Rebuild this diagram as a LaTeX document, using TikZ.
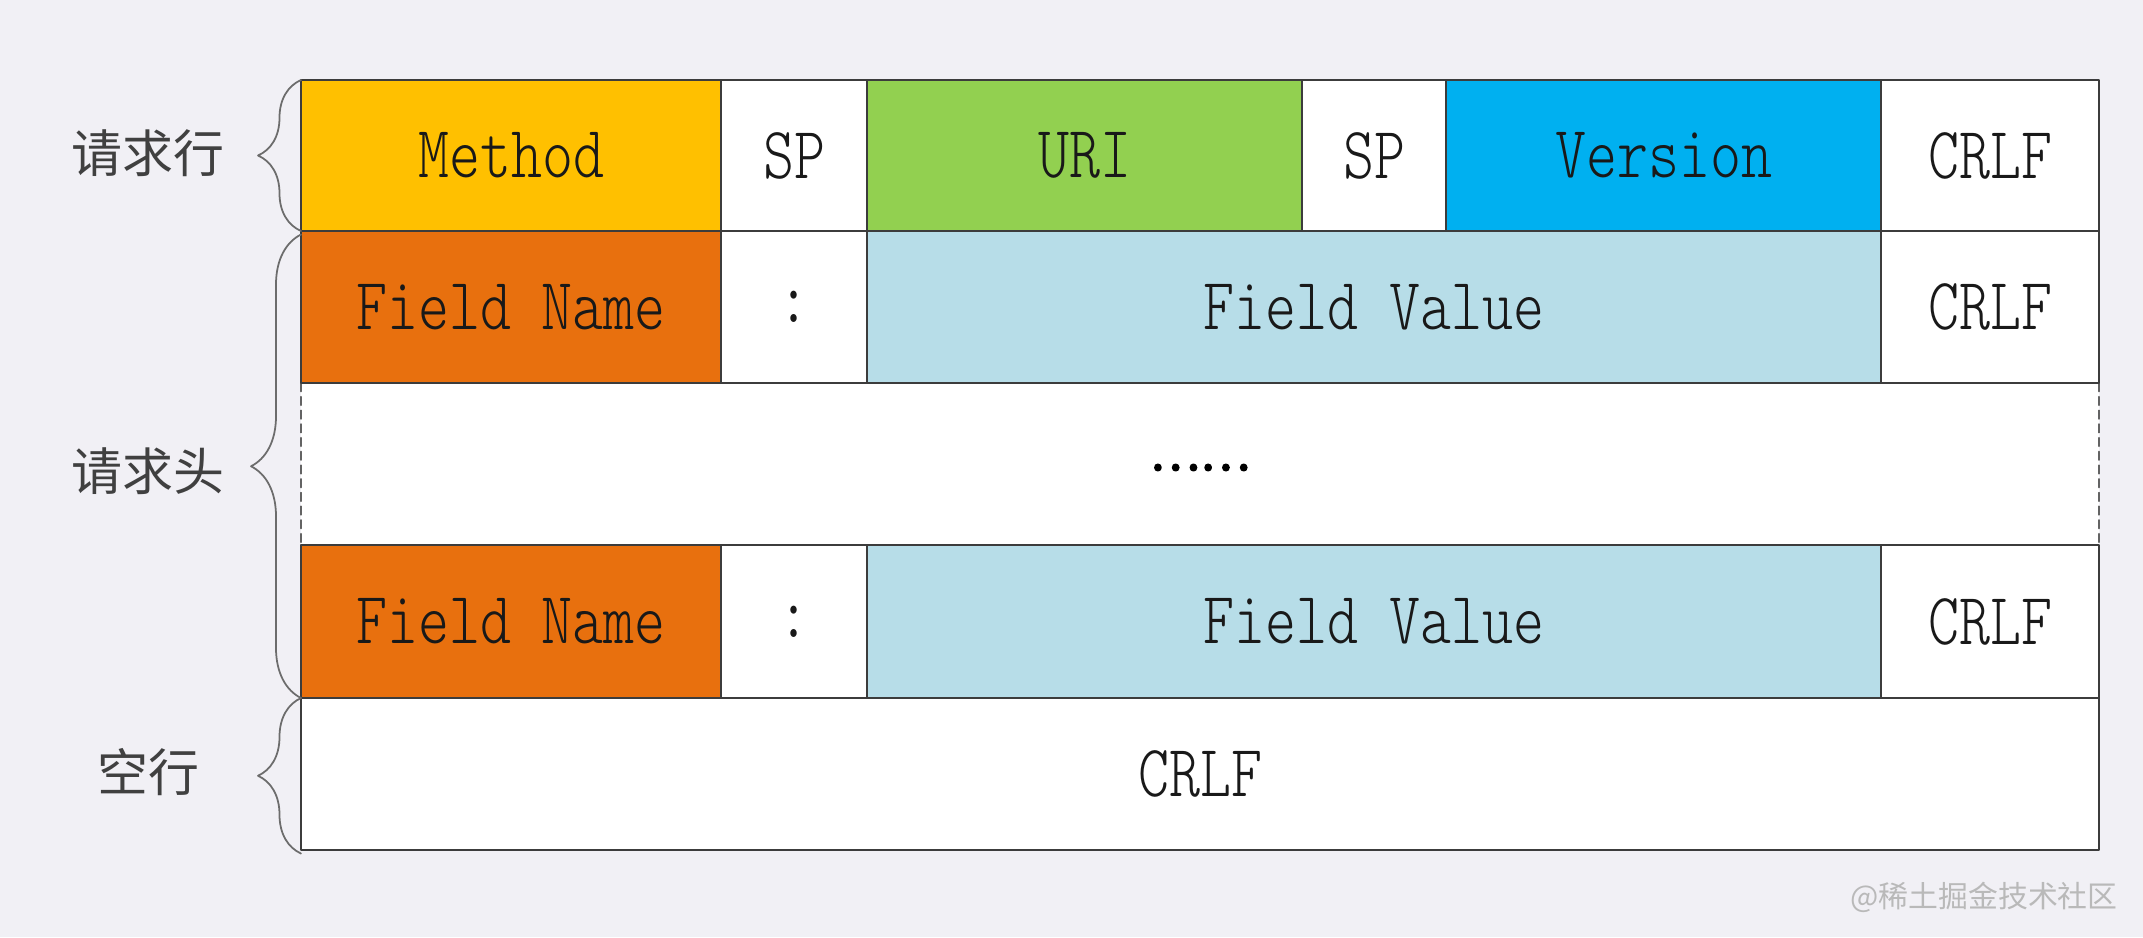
\documentclass[tikz,border=0pt]{standalone}
\usepackage{fontspec}
\usepackage{xcolor}
\usepackage{tikz}
\usetikzlibrary{calc,decorations.pathreplacing,positioning}
\newfontfamily\cjk{Noto Sans CJK SC}
\newfontfamily\cjkdots[FakeBold=3]{Noto Sans CJK SC}
\newfontfamily\cellfont[FakeStretch=0.8]{lmmonolt10-regular.otf}
\definecolor{bgc}{HTML}{F1F0F5}
\definecolor{methodc}{HTML}{FFC000}
\definecolor{uric}{HTML}{92D050}
\definecolor{versionc}{HTML}{00B0F0}
\definecolor{namec}{HTML}{E8700E}
\definecolor{valuec}{HTML}{B7DDE8}
\definecolor{linec}{HTML}{3C3C3C}

\begin{document}
\begin{tikzpicture}[line cap=round, line join=round,
  cell/.style={draw=linec, line width=0.6pt, fill=white, inner sep=0pt, outer sep=0pt,
    minimum height=1.52cm, text=black!90, font=\cellfont\fontsize{21}{25}\selectfont},
  gaprow/.style={fill=white, inner sep=0pt, outer sep=0pt, minimum width=17.98cm,
    minimum height=1.62cm, font=\cjkdots\fontsize{13.5}{16}\selectfont},
  bracer/.style={decorate, decoration={brace, amplitude=#1}, draw=gray!85!black, line width=0.5pt},
  lbl/.style={font=\cjk\fontsize{14.5}{17}\selectfont, text=black!75, inner sep=0pt}]
\fill[bgc] (0,0) rectangle (21.43,9.37);
\useasboundingbox (0,0) rectangle (21.43,9.37);

\node[gaprow] (gap) at (12.00,4.73) {\raisebox{-0.13cm}{……}};
\draw[linec!80, line width=0.5pt, dash pattern=on 2.4pt off 1.5pt] (gap.north west) -- (gap.south west);
\draw[linec!80, line width=0.5pt, dash pattern=on 2.4pt off 1.5pt] (gap.north east) -- (gap.south east);

\node[cell, fill=methodc, minimum width=4.20cm, minimum height=1.51cm] (method) at (5.11,7.815) {Method};
\node[cell, minimum width=1.46cm, minimum height=1.51cm, right=0pt of method] (sp1) {SP};
\node[cell, fill=uric, minimum width=4.35cm, minimum height=1.51cm, right=0pt of sp1] (uri) {URI};
\node[cell, minimum width=1.44cm, minimum height=1.51cm, right=0pt of uri] (sp2) {SP};
\node[cell, fill=versionc, minimum width=4.35cm, minimum height=1.51cm, right=0pt of sp2] (version) {Version};
\node[cell, minimum width=2.18cm, minimum height=1.51cm, right=0pt of version] (crlf1) {CRLF};

\node[cell, fill=namec, minimum width=4.20cm, anchor=north west] (name1) at (method.south west) {Field Name};
\node[cell, minimum width=1.46cm, right=0pt of name1] (colon1) {:};
\node[cell, fill=valuec, minimum width=10.14cm, right=0pt of colon1] (value1) {Field Value};
\node[cell, minimum width=2.18cm, right=0pt of value1] (crlf2) {CRLF};

\node[cell, fill=namec, minimum width=4.20cm, minimum height=1.53cm, anchor=north west] (name2) at (gap.south west) {Field Name};
\node[cell, minimum width=1.46cm, minimum height=1.53cm, right=0pt of name2] (colon2) {:};
\node[cell, fill=valuec, minimum width=10.14cm, minimum height=1.53cm, right=0pt of colon2] (value2) {Field Value};
\node[cell, minimum width=2.18cm, minimum height=1.53cm, right=0pt of value2] (crlf3) {CRLF};

\node[cell, minimum width=17.98cm, anchor=north west] (blank) at (name2.south west) {CRLF};

\draw[bracer=0.43cm] (method.south west) -- (method.north west);
\draw[bracer=0.50cm] (name2.south west) -- ([yshift=-1pt]name1.north west);
\draw[bracer=0.43cm] ([yshift=-1pt]blank.south west) -- (blank.north west);

\node[lbl] (reqline) at (1.48,7.84) {请求行};
\node[lbl] (reqhead) at (1.48,4.66) {请求头};
\node[lbl] (emptyline) at (1.48,1.65) {空行};
\node[font=\cjk\fontsize{8.5}{10}\selectfont, text=gray!55, inner sep=0pt] (mark) at (19.84,0.40) {@稀土掘金技术社区};
\end{tikzpicture}
\end{document}
